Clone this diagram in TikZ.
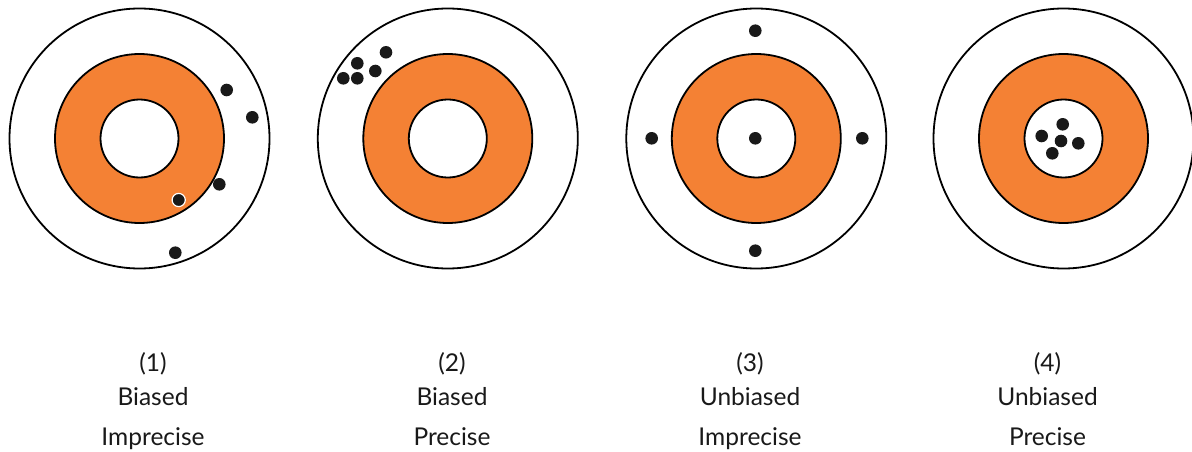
\documentclass[tikz,border=0pt]{standalone}
\usepackage{fontspec}
\setmainfont{Lato}
\definecolor{ringorange}{RGB}{244,129,52}
\begin{document}
\begin{tikzpicture}[x=1pt, y=-1pt,
  ring/.style={draw=black, line width=1.8pt},
  shot/.style={fill=black!90},
  lbl/.style={anchor=base, inner sep=0pt, font=\fontsize{24.5}{29}\selectfont, text=black!90}]
\useasboundingbox (0,0) rectangle (1192,452);
% targets
\foreach \cx in {139.5, 447.8, 756.3, 1063.5}{
  \draw[ring, fill=white] (\cx,138.5) circle (130);
  \draw[ring, fill=ringorange] (\cx,138.5) circle (84.5);
  \draw[ring, fill=white] (\cx,138.5) circle (39);
}
% (1) biased, imprecise
\fill[shot] (226.7,90) circle (6.3);
\fill[shot] (252.3,117.3) circle (6.3);
\fill[shot] (219.3,184.3) circle (6.3);
\draw[shot, draw=white, line width=1.2pt] (178.7,200) circle (6.6);
\fill[shot] (175.3,252.7) circle (6.3);
% (2) biased, precise
\fill[shot] (386,52.3) circle (6.3);
\fill[shot] (357.3,63.3) circle (6.3);
\fill[shot] (375.3,71) circle (6.3);
\fill[shot] (343.3,78.3) circle (6.3);
\fill[shot] (357.3,78.3) circle (6.3);
% (3) unbiased, imprecise
\fill[shot] (755.3,30.7) circle (6.3);
\fill[shot] (651.7,138.3) circle (6.3);
\fill[shot] (755.3,138.3) circle (6.3);
\fill[shot] (862.3,138.3) circle (6.3);
\fill[shot] (755.3,250.7) circle (6.3);
% (4) unbiased, precise
\fill[shot] (1062.7,124.3) circle (6.3);
\fill[shot] (1041.7,136) circle (6.3);
\fill[shot] (1061,141) circle (6.3);
\fill[shot] (1078.3,143.3) circle (6.3);
\fill[shot] (1052.3,153.3) circle (6.3);
% labels
\node[lbl] (num1) at (153,371) {(1)};
\node[lbl] (bias1) at (153,405.7) {Biased};
\node[lbl] (prec1) at (153,445) {Imprecise};
\node[lbl] (num2) at (452,371) {(2)};
\node[lbl] (bias2) at (452,405.7) {Biased};
\node[lbl] (prec2) at (452,445) {Precise};
\node[lbl] (num3) at (750,371) {(3)};
\node[lbl] (bias3) at (750,405.7) {Unbiased};
\node[lbl] (prec3) at (750,445) {Imprecise};
\node[lbl] (num4) at (1047.5,371) {(4)};
\node[lbl] (bias4) at (1047.5,405.7) {Unbiased};
\node[lbl] (prec4) at (1047.5,445) {Precise};
\end{tikzpicture}
\end{document}
